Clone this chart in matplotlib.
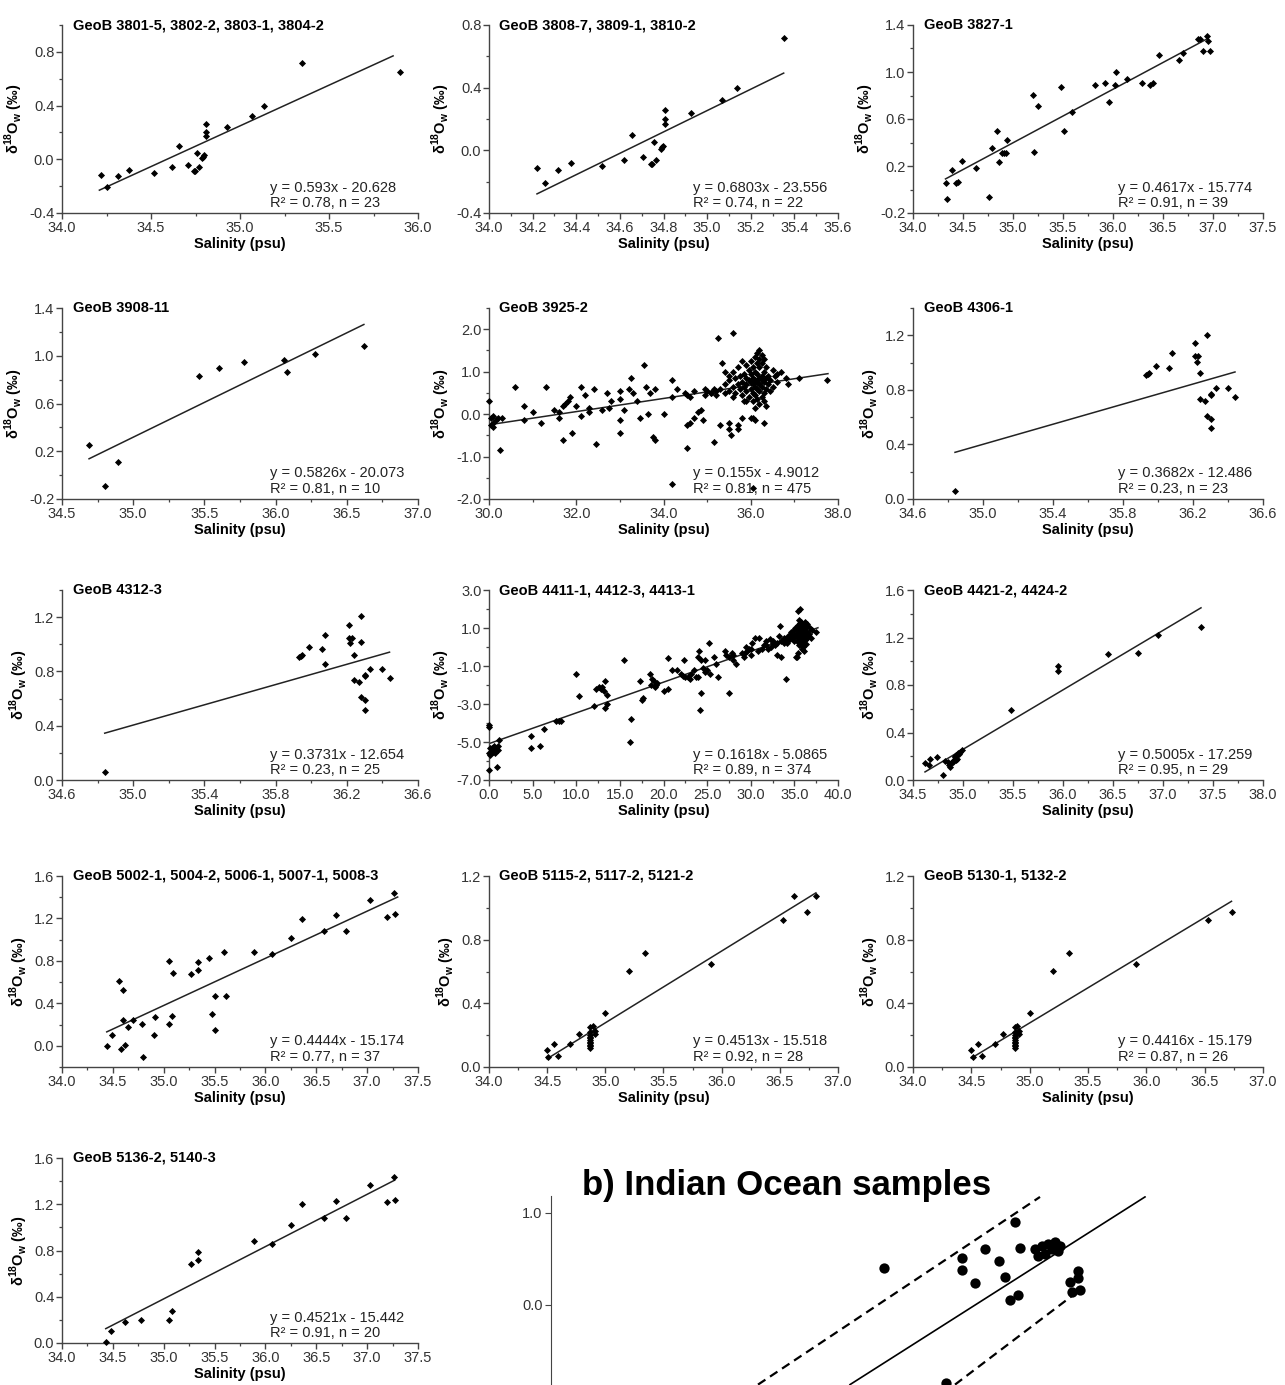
import numpy as np
import matplotlib.pyplot as plt
from matplotlib.ticker import FixedLocator, AutoMinorLocator, FormatStrFormatter

plt.rcParams['font.family'] = ['Liberation Sans', 'DejaVu Sans']
plt.rcParams['mathtext.fontset'] = 'custom'
plt.rcParams['mathtext.rm'] = 'Liberation Sans'
plt.rcParams['mathtext.bf'] = 'Liberation Sans:bold'

W, H = 1285, 1385

# ---- данные панелей: (солёность, d18O) ----
p2_points = [(34.22, -0.115), (34.255, -0.21), (34.316, -0.125), (34.377, -0.08), (34.516, -0.10),
             (34.617, -0.06), (34.657, 0.10), (34.708, -0.04), (34.743, -0.09), (34.749, -0.09),
             (34.767, -0.06), (34.758, 0.05), (34.787, 0.01), (34.793, 0.02), (34.798, 0.03),
             (34.807, 0.26), (34.807, 0.20), (34.807, 0.17), (34.926, 0.24), (35.068, 0.32),
             (35.137, 0.40), (35.351, 0.72)]
p1_points = p2_points + [(35.9, 0.65)]

p3_points = [(34.325, 0.053), (34.34, -0.08), (34.39, 0.166), (34.43, 0.053), (34.45, 0.067),
             (34.49, 0.245), (34.63, 0.18), (34.76, -0.065), (34.79, 0.355), (34.84, 0.50),
             (34.86, 0.234), (34.89, 0.307), (34.91, 0.307), (34.93, 0.31), (34.94, 0.42),
             (35.20, 0.806), (35.21, 0.32), (35.25, 0.707), (35.48, 0.876), (35.51, 0.50),
             (35.59, 0.656), (35.82, 0.893), (35.92, 0.904), (35.96, 0.744), (36.02, 0.893),
             (36.03, 0.997), (36.14, 0.938), (36.29, 0.904), (36.37, 0.893), (36.40, 0.904),
             (36.46, 1.146), (36.66, 1.104), (36.70, 1.16), (36.85, 1.279), (36.87, 1.279),
             (36.90, 1.175), (36.94, 1.307), (36.95, 1.26), (36.97, 1.175)]

p4_points = [(34.69, 0.256), (34.80, -0.093), (34.89, 0.113), (35.46, 0.83), (35.60, 0.896),
             (35.78, 0.946), (36.06, 0.963), (36.08, 0.862), (36.28, 1.017), (36.62, 1.082)]

p5_points = [(30.0, 0.3), (30.05, -0.1), (30.1, -0.05), (30.05, -0.25), (30.1, -0.3), (30.15, -0.15),
             (30.2, -0.1), (30.3, -0.1), (30.1, -0.2), (30.25, -0.85), (30.6, 0.65), (30.8, 0.2),
             (30.8, -0.15), (31.0, 0.05), (31.2, -0.2), (31.3, 0.65), (31.5, 0.1), (31.6, 0.05),
             (31.6, -0.1), (31.7, 0.2), (31.75, 0.25), (31.8, 0.3), (31.85, 0.4), (31.7, -0.6),
             (31.9, -0.45), (32.0, 0.2), (32.1, 0.65), (32.1, -0.05), (32.2, 0.45), (32.3, 0.15),
             (32.3, 0.05), (32.4, 0.6), (32.45, -0.7), (32.6, 0.1), (32.7, 0.5), (32.75, 0.15),
             (32.8, 0.3), (33.0, 0.35), (33.0, 0.55), (33.0, -0.15), (33.0, -0.45), (33.1, 0.1),
             (33.2, 0.6), (33.25, 0.85), (33.3, 0.5), (33.4, 0.3), (33.45, -0.1), (33.55, 1.15),
             (33.6, 0.65), (33.65, 0.0), (33.7, 0.5), (33.75, -0.55), (33.8, -0.6), (33.8, 0.6),
             (34.0, 0.0), (34.2, 0.8), (34.3, 0.6), (34.2, 0.4), (34.5, 0.5), (34.55, 0.45),
             (34.6, 0.4), (34.6, -0.2), (34.55, -0.25), (34.7, -0.1), (34.55, -0.8), (34.8, 0.05),
             (34.85, 0.1), (34.9, -0.15), (34.95, 0.6), (34.95, 0.45), (34.7, 0.55), (34.2, -1.65),
             (35.1, 0.5), (35.15, 0.6), (35.15, -0.65), (35.25, 1.8), (35.3, -0.25), (35.35, 1.2),
             (35.4, 1.0), (35.5, 0.9), (35.55, -0.5), (35.5, -0.2), (35.5, -0.35), (35.6, 1.9),
             (35.7, -0.25), (35.7, -0.35), (35.8, -0.1), (35.9, 0.3), (36.0, -0.1), (36.05, -0.1),
             (36.1, -0.15), (36.3, -0.2), (36.05, -1.75), (37.1, 0.85), (37.75, 0.8),
             (36.2, 1.5), (36.15, 1.45), (36.25, 1.4), (36.1, 1.35), (36.2, 1.3), (36.3, 1.3),
             (36.0, 1.25), (35.8, 1.25), (36.15, 1.2), (36.25, 1.2), (35.9, 1.15), (36.05, 1.1),
             (36.2, 1.1), (36.35, 1.1), (35.7, 1.1), (36.5, 1.05), (35.95, 1.05), (36.1, 1.0),
             (36.3, 1.0), (35.6, 1.0), (36.7, 1.0), (36.6, 0.95), (35.85, 0.95), (36.0, 0.95),
             (36.15, 0.95), (36.25, 0.9), (36.4, 0.9), (35.75, 0.9), (36.55, 0.9), (36.05, 0.85),
             (36.2, 0.85), (35.65, 0.85), (35.9, 0.85), (36.35, 0.85), (36.8, 0.85), (36.45, 0.8),
             (36.1, 0.8), (36.25, 0.8), (35.95, 0.8), (35.5, 0.8), (35.8, 0.75), (36.0, 0.75),
             (36.15, 0.75), (36.3, 0.75), (36.6, 0.75), (35.7, 0.7), (35.9, 0.7), (36.05, 0.7),
             (36.2, 0.7), (36.4, 0.7), (36.85, 0.7), (35.4, 0.7), (35.6, 0.65), (35.85, 0.65),
             (36.1, 0.65), (36.25, 0.65), (36.5, 0.65), (35.3, 0.6), (35.75, 0.6), (36.0, 0.6),
             (36.15, 0.6), (36.35, 0.6), (35.2, 0.55), (35.5, 0.55), (35.9, 0.55), (36.2, 0.55),
             (36.45, 0.55), (35.1, 0.5), (35.4, 0.5), (35.65, 0.5), (36.05, 0.5), (36.3, 0.5),
             (35.8, 0.45), (36.1, 0.45), (36.25, 0.4), (35.95, 0.4), (36.15, 0.35), (36.3, 0.3),
             (35.85, 0.3), (36.05, 0.3), (36.2, 0.25), (36.35, 0.2), (36.1, 0.15), (35.6, 0.4),
             (35.0, 0.55), (35.2, 0.45)]

p6_points = [(34.84, 0.06), (35.93, 0.91), (35.94, 0.916), (35.95, 0.92), (35.99, 0.978),
             (36.06, 0.963), (36.08, 1.07), (36.21, 1.14), (36.21, 1.047), (36.23, 1.047),
             (36.22, 1.007), (36.24, 0.92), (36.28, 1.205), (36.24, 0.736), (36.27, 0.719),
             (36.28, 0.612), (36.30, 0.765), (36.305, 0.773), (36.305, 0.588), (36.30, 0.519),
             (36.33, 0.817), (36.40, 0.817), (36.44, 0.748)]
p7_points = p6_points + [(36.08, 0.854), (36.28, 1.015)]

p8_points = [(0.0, -4.1), (0.0, -4.2), (0.1, -5.3), (0.2, -5.5), (0.05, -5.6), (0.3, -5.4),
             (0.4, -5.3), (0.5, -5.5), (0.6, -5.2), (0.8, -5.3), (1.0, -5.2), (1.0, -5.4),
             (0.7, -5.6), (0.9, -6.3), (0.0, -6.5), (1.2, -4.9), (0.1, -5.7), (4.8, -4.7),
             (4.8, -5.3), (5.9, -5.2), (6.3, -4.3), (7.7, -3.9), (8.0, -3.9), (8.3, -3.9),
             (10.0, -1.4), (10.3, -2.6), (12.0, -3.1), (12.3, -2.2), (12.6, -2.1), (12.8, -2.2),
             (13.0, -2.1), (13.3, -1.8), (13.2, -2.3), (13.5, -2.5), (13.5, -3.0), (13.3, -3.2),
             (15.5, -0.7), (16.3, -3.8), (16.2, -5.0), (17.3, -1.8), (17.5, -2.8), (17.6, -2.7),
             (18.4, -1.4), (18.6, -2.0), (18.7, -1.7), (18.9, -1.8), (19.1, -2.0), (19.3, -1.9),
             (19.0, -2.1), (20.0, -2.3), (20.5, -2.2), (20.5, -0.6), (21.0, -1.2), (21.5, -1.2),
             (22.0, -1.4), (22.2, -1.5), (22.5, -1.6), (22.3, -0.7), (22.8, -1.6), (23.0, -1.7),
             (23.2, -1.4), (23.5, -1.2), (23.7, -1.6), (24.0, -1.6), (24.0, -0.5), (24.1, -0.2),
             (24.3, -0.7), (24.5, -1.1), (24.7, -1.3), (24.3, -2.4), (24.2, -3.3), (24.8, -0.7),
             (25.2, 0.2), (25.0, -1.2), (25.3, -1.4), (25.8, -0.5), (26.0, -0.9), (26.3, -1.6),
             (27.0, -0.2), (27.2, -0.4), (27.5, -0.5), (27.5, -2.4), (27.8, -0.3), (28.0, -0.7),
             (28.3, -0.9), (28.0, -0.4), (29.0, -0.3), (29.2, -0.5), (29.4, 0.0), (29.6, -0.2),
             (29.8, -0.1), (30.0, -0.4), (30.2, 0.2), (29.3, -0.3), (30.0, -0.1), (30.5, 0.5),
             (31.0, 0.5), (31.5, 0.1), (31.8, 0.3), (32.0, -0.1), (32.2, 0.4), (32.5, 0.2),
             (32.8, 0.1), (33.0, -0.4), (33.2, 0.6), (33.5, -0.5), (33.4, 1.1), (33.8, 0.5),
             (34.0, -1.7), (34.2, 0.2), (34.6, 0.8), (35.0, 0.3), (35.3, -0.5), (35.4, 1.9),
             (35.7, 2.0), (35.2, 0.7), (35.5, 0.9),
             (35.5, 1.4), (35.8, 1.3), (36.0, 1.2), (35.6, 1.1), (36.2, 1.0), (35.9, 1.0),
             (35.3, 0.9), (36.1, 0.9), (35.7, 0.85), (36.4, 0.8), (36.0, 0.75), (35.5, 0.7),
             (36.3, 0.65), (35.8, 0.6), (36.6, 0.6), (35.0, 0.6), (36.1, 0.55), (35.4, 0.5),
             (34.8, 0.5), (36.5, 0.45), (35.9, 0.45), (35.6, 0.4), (36.2, 0.35), (34.5, 0.4),
             (35.3, 0.3), (36.0, 0.25), (35.7, 0.2), (34.2, 0.3), (33.8, 0.2), (36.3, 0.15),
             (35.5, 0.1), (35.9, -0.1), (35.4, -0.3), (35.2, -0.5), (36.1, -0.2), (37.0, 0.9),
             (37.5, 0.8), (36.8, 1.0), (36.7, 0.7), (36.9, 0.5), (35.1, 1.0), (34.9, 0.9),
             (34.6, 0.7), (34.3, 0.6), (33.9, 0.4), (33.5, 0.3), (33.0, 0.2), (32.6, 0.3),
             (32.3, 0.0), (31.8, 0.1), (31.3, -0.1), (30.8, -0.2), (36.2, 1.3), (35.7, 1.25),
             (36.4, 1.1), (35.4, 1.15), (36.5, 1.2), (35.85, 0.15), (36.0, 0.0)]

p9_points = [(34.62, 0.14), (34.66, 0.13), (34.67, 0.18), (34.74, 0.19), (34.80, 0.04), (34.82, 0.16),
             (34.87, 0.11), (34.88, 0.14), (34.90, 0.15), (34.91, 0.17), (34.92, 0.19), (34.93, 0.17),
             (34.92, 0.20), (34.94, 0.18), (34.95, 0.23), (34.97, 0.24), (34.99, 0.25), (34.86, 0.13),
             (34.90, 0.16), (34.93, 0.21), (34.85, 0.15), (34.96, 0.22), (35.48, 0.59), (35.95, 0.96),
             (35.95, 0.92), (36.45, 1.06), (36.75, 1.07), (36.95, 1.22), (37.38, 1.29)]

p10_points = [(34.44, 0.0), (34.49, 0.10), (34.56, 0.608), (34.60, 0.53), (34.58, -0.03),
              (34.60, 0.246), (34.62, 0.01), (34.65, 0.173), (34.70, 0.246), (34.79, 0.205),
              (34.80, -0.107), (34.90, 0.104), (34.91, 0.268), (35.05, 0.205), (35.05, 0.803),
              (35.08, 0.277), (35.09, 0.687), (35.27, 0.677), (35.34, 0.79), (35.34, 0.718),
              (35.45, 0.83), (35.47, 0.30), (35.50, 0.466), (35.50, 0.145), (35.59, 0.88),
              (35.61, 0.472), (35.89, 0.88), (36.06, 0.866), (36.25, 1.017), (36.36, 1.197),
              (36.58, 1.08), (36.69, 1.228), (36.79, 1.08), (37.03, 1.37), (37.26, 1.44),
              (37.20, 1.216), (37.27, 1.238)]

p12_points = [(34.50, 0.108), (34.51, 0.06), (34.56, 0.146), (34.59, 0.067), (34.70, 0.146),
              (34.77, 0.208), (34.87, 0.254), (34.87, 0.12), (34.87, 0.13), (34.87, 0.14),
              (34.87, 0.15), (34.87, 0.16), (34.87, 0.17), (34.87, 0.18), (34.87, 0.19),
              (34.87, 0.20), (34.87, 0.22), (34.89, 0.26), (34.91, 0.21), (34.91, 0.227),
              (35.0, 0.337), (35.2, 0.603), (35.34, 0.715), (35.91, 0.645), (36.53, 0.926),
              (36.73, 0.975)]
p11_points = p12_points + [(36.62, 1.075), (36.81, 1.075)]

p13_points = [(34.43, 0.01), (34.48, 0.10), (34.62, 0.18), (34.78, 0.20), (35.05, 0.20),
              (35.08, 0.28), (35.27, 0.68), (35.34, 0.72), (35.34, 0.79), (35.89, 0.88),
              (36.06, 0.86), (36.25, 1.02), (36.36, 1.20), (36.58, 1.08), (36.69, 1.23),
              (36.79, 1.08), (37.03, 1.37), (37.26, 1.44), (37.20, 1.22), (37.27, 1.24)]

# линии регрессии: концы (x0, y0, x1, y1)
fit_lines = [(34.21, -0.23, 35.86, 0.77), (34.22, -0.278, 35.351, 0.493), (34.325, 0.09, 36.95, 1.286),
             (34.69, 0.137, 36.62, 1.262), (30.0, -0.251, 37.77, 0.953), (34.84, 0.342, 36.44, 0.931),
             (34.84, 0.345, 36.44, 0.942), (0.0, -5.0865, 37.7, 1.013), (34.62, 0.068, 37.38, 1.45),
             (34.44, 0.131, 37.3, 1.402), (34.5, 0.052, 36.81, 1.094), (34.5, 0.056, 36.73, 1.041),
             (34.43, 0.124, 37.27, 1.408)]

titles = ['GeoB 3801-5, 3802-2, 3803-1, 3804-2', 'GeoB 3808-7, 3809-1, 3810-2', 'GeoB 3827-1',
          'GeoB 3908-11', 'GeoB 3925-2', 'GeoB 4306-1',
          'GeoB 4312-3', 'GeoB 4411-1, 4412-3, 4413-1', 'GeoB 4421-2, 4424-2',
          'GeoB 5002-1, 5004-2, 5006-1, 5007-1, 5008-3', 'GeoB 5115-2, 5117-2, 5121-2', 'GeoB 5130-1, 5132-2',
          'GeoB 5136-2, 5140-3']

equations = ['y = 0.593x - 20.628\nR² = 0.78, n = 23', 'y = 0.6803x - 23.556\nR² = 0.74, n = 22',
             'y = 0.4617x - 15.774\nR² = 0.91, n = 39', 'y = 0.5826x - 20.073\nR² = 0.81, n = 10',
             'y = 0.155x - 4.9012\nR² = 0.81, n = 475', 'y = 0.3682x - 12.486\nR² = 0.23, n = 23',
             'y = 0.3731x - 12.654\nR² = 0.23, n = 25', 'y = 0.1618x - 5.0865\nR² = 0.89, n = 374',
             'y = 0.5005x - 17.259\nR² = 0.95, n = 29', 'y = 0.4444x - 15.174\nR² = 0.77, n = 37',
             'y = 0.4513x - 15.518\nR² = 0.92, n = 28', 'y = 0.4416x - 15.179\nR² = 0.87, n = 26',
             'y = 0.4521x - 15.442\nR² = 0.91, n = 20']

x_ticks = [np.arange(34.0, 36.01, 0.5), np.arange(34.0, 35.61, 0.2), np.arange(34.0, 37.51, 0.5),
           np.arange(34.5, 37.01, 0.5), np.arange(30.0, 38.01, 2.0), np.arange(34.6, 36.61, 0.4),
           np.arange(34.6, 36.61, 0.4), np.arange(0.0, 40.01, 5.0), np.arange(34.5, 38.01, 0.5),
           np.arange(34.0, 37.51, 0.5), np.arange(34.0, 37.01, 0.5), np.arange(34.0, 37.01, 0.5),
           np.arange(34.0, 37.51, 0.5)]
y_ticks = [np.arange(-0.4, 0.81, 0.4), np.arange(-0.4, 0.81, 0.4), np.arange(-0.2, 1.41, 0.4),
           np.arange(-0.2, 1.41, 0.4), np.arange(-2.0, 2.01, 1.0), np.arange(0.0, 1.21, 0.4),
           np.arange(0.0, 1.21, 0.4), np.arange(-7.0, 3.01, 2.0), np.arange(0.0, 1.61, 0.4),
           np.arange(0.0, 1.61, 0.4), np.arange(0.0, 1.21, 0.4), np.arange(0.0, 1.21, 0.4),
           np.arange(0.0, 1.61, 0.4)]
y_lims = [(-0.4, 1.0), (-0.4, 0.8), (-0.2, 1.4), (-0.2, 1.4), (-2.0, 2.5), (0.0, 1.4),
          (0.0, 1.4), (-7.0, 3.0), (0.0, 1.6), (-0.2, 1.6), (0.0, 1.2), (0.0, 1.2), (0.0, 1.6)]

# Индийский океан (панель b)
b_points = [(34.665, 0.40), (35.32, 0.90), (35.345, 0.62), (35.055, 0.51), (35.055, 0.38),
            (35.17, 0.60), (35.24, 0.47), (35.12, 0.23), (35.27, 0.30), (35.335, 0.10),
            (35.295, 0.05), (34.975, -0.85), (35.42, 0.60), (35.455, 0.64), (35.485, 0.66),
            (35.52, 0.68), (35.545, 0.64), (35.47, 0.55), (35.505, 0.60), (35.435, 0.53),
            (35.535, 0.58), (35.595, 0.24), (35.635, 0.29), (35.605, 0.14), (35.645, 0.16),
            (35.635, 0.36)]
b_fit = (34.495, -0.87, 35.97, 1.17)
b_upper = (34.035, -0.87, 35.445, 1.17)
b_lower = (35.02, -0.87, 35.645, 0.16)

# ---- раскладка в пикселях ----
col_x = [(62, 418), (489, 838), (913, 1263)]
row_y = [(25, 213), (308, 499), (590, 780), (876, 1067), (1158, 1343)]
grey = '#444444'

fig = plt.figure(figsize=(W / 100, H / 100), dpi=100)


def rect(l, t, r, b):
    return [l / W, 1 - b / H, (r - l) / W, (b - t) / H]


all_points = [p1_points, p2_points, p3_points, p4_points, p5_points, p6_points, p7_points,
              p8_points, p9_points, p10_points, p11_points, p12_points, p13_points]

for i, pts in enumerate(all_points):
    r, c = divmod(i, 3)
    ax = fig.add_axes(rect(col_x[c][0], row_y[r][0], col_x[c][1], row_y[r][1]))
    sal, d18 = np.array(pts).T
    x0, y0, x1, y1 = fit_lines[i]
    ax.plot([x0, x1], [y0, y1], color='#222222', lw=1.1, zorder=2)
    ax.scatter(sal, d18, marker='D', s=13, color='black', lw=0, clip_on=False, zorder=3)
    xt = x_ticks[i]
    ax.set_xlim(xt[0], xt[-1])
    ax.set_ylim(*y_lims[i])
    ax.xaxis.set_major_locator(FixedLocator(xt))
    ax.yaxis.set_major_locator(FixedLocator(y_ticks[i]))
    ax.xaxis.set_minor_locator(AutoMinorLocator(2))
    ax.yaxis.set_minor_locator(AutoMinorLocator(2))
    ax.xaxis.set_major_formatter(FormatStrFormatter('%.1f'))
    ax.yaxis.set_major_formatter(FormatStrFormatter('%.1f'))
    for s in ['top', 'right']:
        ax.spines[s].set_visible(False)
    for s in ['left', 'bottom']:
        ax.spines[s].set_color(grey)
        ax.spines[s].set_linewidth(1.0)
    ax.tick_params(which='major', length=4, width=1.0, color=grey, labelsize=10.5,
                   labelcolor='#333333', pad=1.5)
    ax.tick_params(which='minor', length=2.5, width=0.9, color=grey)
    ax.set_xlabel('Salinity (psu)', fontsize=10.5, fontweight='bold', labelpad=2)
    ax.set_ylabel('δ$^{\\mathbf{18}}$O$_{\\mathbf{w}}$ (‰)', fontsize=10.5, fontweight='bold', labelpad=3)
    ax.text(0.03, 1.0, titles[i], transform=ax.transAxes, fontsize=10.5, fontweight='bold',
            ha='left', va='center')
    ax.text(0.585, 0.015, equations[i], transform=ax.transAxes, fontsize=10.5,
            ha='left', va='bottom', linespacing=1.15, color='#222222')

# ---- панель b ----
b_top, b_ylim = 1196, (-2.0, 1.18)
px_per = 92.0
b_bottom = b_top + (b_ylim[1] - b_ylim[0]) * px_per
axb = fig.add_axes(rect(551, b_top, 1201, b_bottom))
bs, bd = np.array(b_points).T
axb.plot(b_fit[::2], b_fit[1::2], color='black', lw=1.2)
axb.plot(b_upper[::2], b_upper[1::2], color='black', lw=1.6, ls=(0, (4, 2.5)))
axb.plot(b_lower[::2], b_lower[1::2], color='black', lw=1.6, ls=(0, (4, 2.5)))
axb.scatter(bs, bd, s=55, color='black', lw=0, zorder=3)
axb.set_xlim(33.0, 36.25)
axb.set_ylim(*b_ylim)
axb.yaxis.set_major_locator(FixedLocator([0.0, 1.0]))
axb.yaxis.set_major_formatter(FormatStrFormatter('%.1f'))
axb.set_xticks([])
for s in ['top', 'right', 'bottom']:
    axb.spines[s].set_visible(False)
axb.spines['left'].set_color(grey)
axb.tick_params(axis='y', length=4, color=grey, labelsize=10.5, labelcolor='#333333', pad=2)
fig.text(787 / W, 1 - 1185 / H, 'b) Indian Ocean samples', fontsize=25, fontweight='bold',
         ha='center', va='center')

fig.savefig('out.png', dpi=100)
